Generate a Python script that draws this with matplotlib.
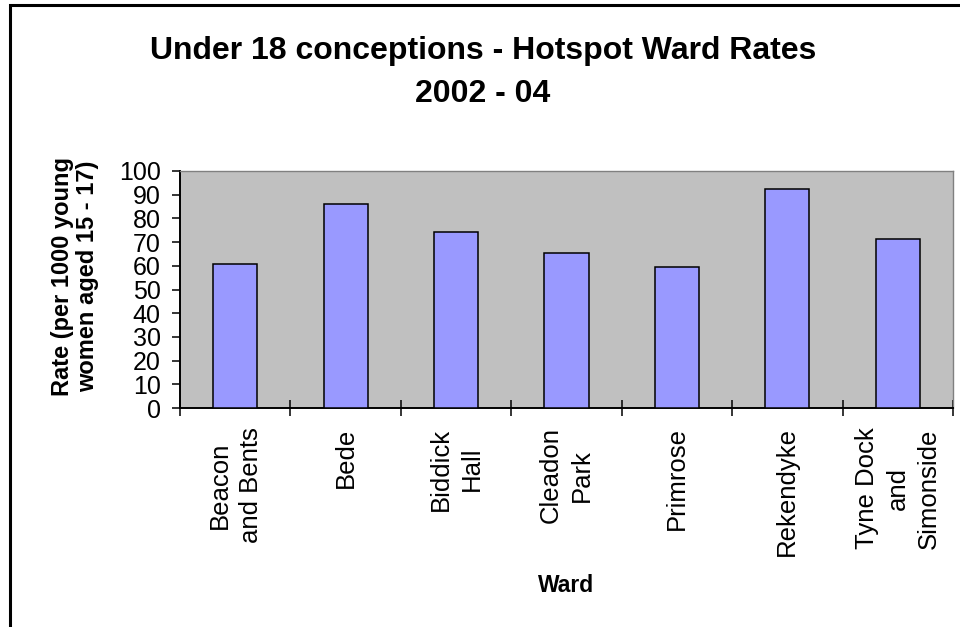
import matplotlib
matplotlib.use("Agg")
import matplotlib.pyplot as plt
from matplotlib.patches import Rectangle
import numpy as np

wards = ["Beacon\nand Bents", "Bede", "Biddick\nHall", "Cleadon\nPark",
         "Primrose", "Rekendyke", "Tyne Dock\nand\nSimonside"]
rates = [60.6, 86.1, 74.3, 65.5, 59.6, 92.5, 71.4]
yticks = list(range(0, 101, 10))

plt.rcParams['font.family'] = ['Liberation Sans', 'DejaVu Sans']

W, H = 960, 627
fig = plt.figure(figsize=(W / 100, H / 100), dpi=100)
fig.patch.set_facecolor("white")

def px(x0, y0, x1, y1):
    return [x0 / W, 1 - y1 / H, (x1 - x0) / W, (y1 - y0) / H]

ax = fig.add_axes(px(180, 171, 953, 408))
ax.set_facecolor("#C0C0C0")

x = np.arange(len(wards))
ax.bar(x, rates, width=0.4, color="#9999FF", edgecolor="black", linewidth=1.1, zorder=3)

ax.set_xlim(-0.5, len(wards) - 0.5)
ax.set_ylim(0, 100)
ax.set_yticks(yticks)
ax.set_yticklabels([str(v) for v in yticks], fontsize=18)
ax.tick_params(axis="y", direction="out", length=6, width=1.1, pad=8)

ax.set_xticks(x)
ax.set_xticklabels(wards, rotation=90, fontsize=18.5, ha="center", va="top",
                   multialignment="center", linespacing=1.35)
ax.tick_params(axis="x", which="major", length=0, pad=14)
ax.set_xticks(np.arange(-0.5, len(wards), 1.0), minor=True)
ax.tick_params(axis="x", which="minor", direction="inout", length=12, width=1.1)

for s in ["left", "bottom"]:
    ax.spines[s].set_color("black")
    ax.spines[s].set_linewidth(1.4)
for s in ["top", "right"]:
    ax.spines[s].set_color("#808080")
    ax.spines[s].set_linewidth(1.0)

fig.text(483 / W, 1 - 72.5 / H, "Under 18 conceptions - Hotspot Ward Rates\n2002 - 04",
         ha="center", va="center", fontsize=23, fontweight="bold", linespacing=1.58)

fig.text(75 / W, 1 - 276 / H, "Rate (per 1000 young\nwomen aged 15 - 17)",
         rotation=90, ha="center", va="center", fontsize=17, fontweight="bold",
         linespacing=1.15)

fig.text(566 / W, 1 - 585 / H, "Ward", ha="center", va="center",
         fontsize=16.5, fontweight="bold")

fig.patches.append(Rectangle((10 / W, -0.1), 1.2, 1.1 - 5 / H, transform=fig.transFigure,
                             fill=False, edgecolor="black", linewidth=2.2, zorder=10))

fig.savefig("out.png", dpi=100)
